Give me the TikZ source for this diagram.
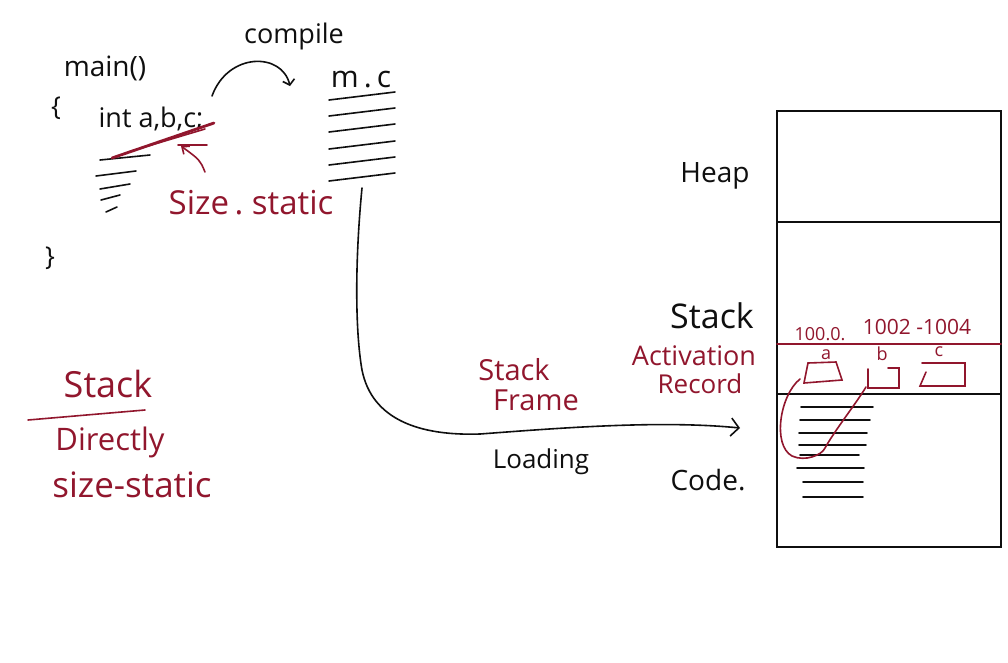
\documentclass[tikz,border=0pt]{standalone}
\usepackage{fontspec}
\setmainfont{Open Sans}
\usetikzlibrary{arrows.meta}
\definecolor{ink}{RGB}{15,15,15}
\definecolor{hred}{RGB}{145,22,45}
\newcommand\fs[1]{\fontsize{#1}{#1}\selectfont}
\begin{document}
\begin{tikzpicture}[x=1pt,y=-1pt,
  btxt/.style={text=ink, inner sep=0pt, font=\fs{#1}},
  rtxt/.style={text=hred, inner sep=0pt, font=\fs{#1}},
  bline/.style={draw=ink, line width=1.6pt, line cap=round},
  rline/.style={draw=hred, line width=1.6pt, line cap=round}]
\useasboundingbox[fill=white] (0,0) rectangle (1008,662);

% left code
\node[btxt=28] (main) at (105,68) {main()};
\node[btxt=26] (ob) at (56,108) {\{};
\node[btxt=26] (cb) at (50,258) {\}};
\node[btxt=27] (intabc) at (151,119) {int a,b,c;};
\foreach \y/\a/\b in {160/100/150,176/96/136,189/100/130,200/101/120,212/106/117}
  \draw[bline] (\a,\y) -- (\b,\y-5);
\draw[rline, line width=2.8pt] (112,158) -- (214,123);
\draw[rline, line width=1.6pt] (128,152) -- (205,129);
\node[rtxt=33] (sz) at (251,203) {Size\,.\ static};
\coordinate (szt) at (205,172);
\coordinate (ul) at (181,146);
\draw[rline, -{Straight Barb[length=6pt,width=10pt]}] (szt) .. controls (200,160) .. (ul);
\draw[rline] (178,145) -- (207,145);

% compile
\node[btxt=27] (compile) at (294,36) {compile};
\node[btxt=30] (mc) at (361,80) {m\,.\,c};
\coordinate (cs) at (212,96);
\coordinate (ce) at (290,86);
\draw[bline, -{Straight Barb[length=5pt,width=12pt]}] (cs) .. controls (228,52) and (282,52) .. (ce);
\foreach \y in {96,112,128,145,161,177}
  \draw[bline] (329,\y+4) -- (395,\y-4);

% loading curve
\coordinate (ls) at (362,188);
\coordinate (le) at (740,428);
\draw[bline, -{Straight Barb[length=8pt,width=18pt]}] (ls) .. controls (355,260) and (355,330) .. (362,370)
  .. controls (372,420) and (420,436) .. (480,434)
  .. controls (560,428) and (660,420) .. (le);
\node[btxt=26] (loading) at (541,462) {Loading};
\node[rtxt=29] (sf1) at (514,370) {Stack};
\node[rtxt=29] (sf2) at (536,400) {Frame};

% left summary
\node[rtxt=36] (st) at (108,384) {Stack};
\draw[rline] (28,420) -- (145,410);
\node[rtxt=31] (dir) at (110,442) {Directly};
\node[rtxt=35] (ss) at (132,485) {size-static};

% memory layout
\node[btxt=28] (heap) at (715,176) {Heap};
\node[btxt=34] (stk) at (712,316) {Stack};
\node[rtxt=27] (act) at (694,356) {Activation};
\node[rtxt=26] (rec) at (700,384) {Record};
\node[btxt=28] (code) at (708,480) {Code.};

\node[draw=ink, line width=1.6pt, minimum width=224pt, minimum height=436pt, inner sep=0pt] (mem) at (889,329) {};
\draw[bline] (777,222) -- (1001,222);
\draw[rline] (777,344) -- (1001,344);
\draw[bline] (777,394) -- (1001,394);

\node[rtxt=18] (l1000) at (820,334) {100.0.};
\node[rtxt=21] (l1002) at (917,327) {1002 -1004};
\node[rtxt=18] (va) at (826,355) {a};
\node[rtxt=18] (vb) at (882,354) {b};
\node[rtxt=18] (vc) at (939,352) {c};
\draw[rline] (804,383) -- (808,363) -- (836,362) -- (842,380) -- cycle;
\draw[rline] (868,369) -- (868,388) -- (899,388) -- (899,368) -- (888,368);
\draw[rline] (922,363) -- (965,363) -- (965,386) -- (920,386) -- (926,372);

\foreach \y/\a/\b in {407/801/873,420/800/870,433/799/867,445/799/866,455/800/859,468/797/864,482/803/863,497/803/863}
  \draw[bline] (\a,\y) -- (\b,\y);

\coordinate (ra) at (800,379);
\coordinate (rb) at (866,387);
\draw[rline] (ra) .. controls (780,395) and (772,445) .. (792,456)
  .. controls (805,462) and (822,455) .. (825,448)
  .. controls (835,430) and (855,405) .. (rb);
\end{tikzpicture}
\end{document}
